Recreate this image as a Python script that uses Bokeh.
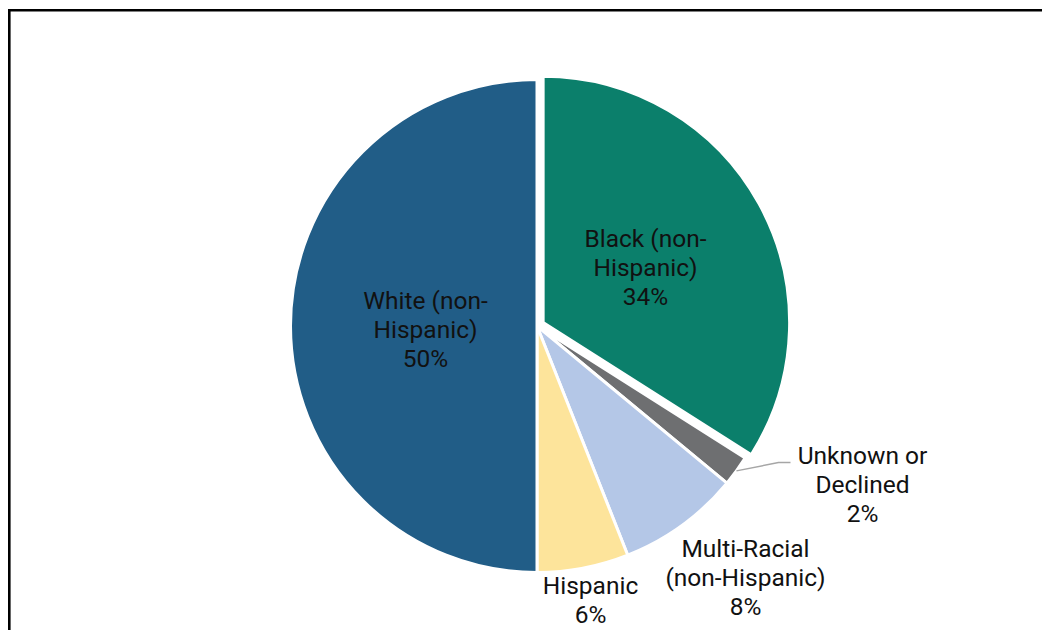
import math
from bokeh.plotting import figure
from bokeh.models import ColumnDataSource
from bokeh.core.properties import value
from bokeh.embed import file_html
from bokeh.resources import INLINE

# ---- data ----
categories = ["Black (non-Hispanic)", "Unknown or Declined", "Multi-Racial (non-Hispanic)",
              "Hispanic", "White (non-Hispanic)"]
label_lines = [["Black (non-", "Hispanic)"], ["Unknown or", "Declined"],
               ["Multi-Racial", "(non-Hispanic)"], ["Hispanic"], ["White (non-", "Hispanic)"]]
shares = [34, 2, 8, 6, 50]
colors = ["#0B7F6B", "#6E6F71", "#B4C7E7", "#FDE49B", "#215D87"]

# ---- layout ----
W, H = 1042, 630
CX, CY = 536.5, 304.5     # pie centre (pixel-like data units, y up)
R = 246.5
explode = [7, 0, 0, 0, 0]
# label centres, relative to pie centre (y up)
label_off = [(108.5, 59.0), (325.5, -158.5), (208.5, -251.5), (53.5, -274.0), (-111.5, -3.5)]
FONT = "Roboto"
FSIZE = "24.5px"

total = sum(shares)
starts, ends, xs, ys = [], [], [], []
cum = 0.0
mids = []
for s, e in zip(shares, explode):
    f0, f1 = cum / total, (cum + s) / total
    a0 = math.pi / 2 - 2 * math.pi * f0
    a1 = math.pi / 2 - 2 * math.pi * f1
    am = (a0 + a1) / 2
    mids.append(am)
    starts.append(a0)
    ends.append(a1)
    xs.append(CX + e * math.cos(am))
    ys.append(CY + e * math.sin(am))
    cum += s

src = ColumnDataSource(dict(x=xs, y=ys, start=starts, end=ends, color=colors, cat=categories))

p = figure(width=W, height=H, x_range=(0, W), y_range=(0, H),
           x_axis_type=None, y_axis_type=None, toolbar_location=None,
           output_backend="svg", min_border=0)
p.grid.visible = False
p.outline_line_color = None
p.background_fill_color = "white"
p.border_fill_color = "white"

p.wedge(x="x", y="y", radius=R, start_angle="start", end_angle="end", direction="clock",
        fill_color="color", line_color="white", line_width=3, source=src)

# leader line for the small slice
am = mids[1]
sx, sy = CX + R * math.cos(am), CY + R * math.sin(am)
p.line([sx, CX + 241.5, CX + 253.5], [sy, CY - 136.5, CY - 136.5],
       line_color="#A6A6A6", line_width=1.5)

texts = ["\n".join(lines + [f"{v}%"]) for lines, v in zip(label_lines, shares)]
lsrc = ColumnDataSource(dict(x=[CX + dx for dx, dy in label_off],
                             y=[CY + dy for dx, dy in label_off], text=texts))
p.text(x="x", y="y", text="text", source=lsrc, text_align="center", text_baseline="middle",
       text_font=value(FONT), text_font_size=value(FSIZE), text_color="#111111",
       text_line_height=1.0)

# chart frame (left and top edges visible, the rest runs off the picture)
p.line([8.8, 8.8, W + 10], [-10, H - 9.7, H - 9.7], line_color="black", line_width=2.6,
       line_join="miter")

open("out.html", "w").write(file_html(p, INLINE))
